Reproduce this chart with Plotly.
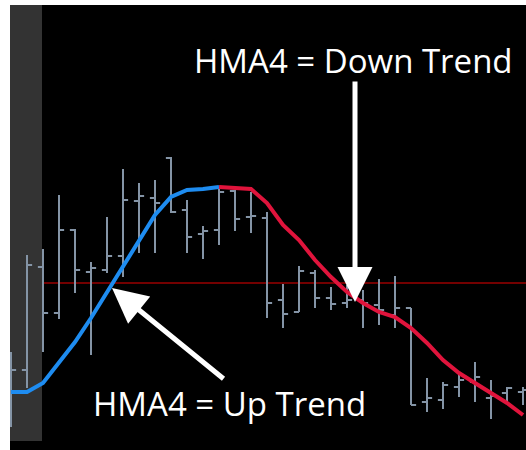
import plotly.graph_objects as go

# ---- data (price units; bar index on x) ----
bar_index = list(range(33))
high_px  = [352,255,249,195,229,262,217,169,183,180,157,200,226,187,190,192,212,284,266,270,287,285,290,279,276,308,378,382,375,362,380,387,387]
low_px   = [427,388,352,319,293,355,273,277,253,253,213,253,259,245,231,233,318,328,312,308,310,308,328,325,328,405,412,409,397,402,419,403,405]
open_px  = [395,370,267,313,230,272,270,256,201,198,158,210,234,230,191,217,218,300,312,273,298,303,300,305,315,308,402,400,387,382,398,393,392]
close_px = [370,265,313,230,270,268,256,200,196,203,212,237,231,192,219,216,303,314,271,298,304,300,303,310,308,405,398,385,380,377,396,388,390]
hma_px   = [392,392,383,362,342,318,292,266,240,215,197,190,189,187,188,189,203,225,240,260,277,292,303,312,317,328,343,360,373,383,393,403,415]
ref_level = 167

def to_price(v):
    return [450 - a for a in v]

high, low, opn, close, hma = map(to_price, (high_px, low_px, open_px, close_px, hma_px))

# trend split: rising HMA blue, falling red
up_end = 13

fig = go.Figure()

fig.add_trace(go.Ohlc(
    x=bar_index, open=opn, high=high, low=low, close=close,
    increasing=dict(line=dict(color="#8494a6", width=2)),
    decreasing=dict(line=dict(color="#8494a6", width=2)),
    tickwidth=0.32, hoverinfo="skip", showlegend=False,
))

fig.add_trace(go.Scatter(
    x=bar_index[:up_end + 1], y=hma[:up_end + 1], mode="lines",
    line=dict(color="#1e8cf0", width=4), hoverinfo="skip", showlegend=False,
))
fig.add_trace(go.Scatter(
    x=bar_index[up_end:], y=hma[up_end:], mode="lines",
    line=dict(color="#e0143c", width=4), hoverinfo="skip", showlegend=False,
))

x_lo, x_hi = -0.0625, 32.1875

fig.add_shape(type="rect", xref="x", yref="y", x0=x_lo, x1=1.9375, y0=9, y1=445,
              fillcolor="#333333", line=dict(width=0), layer="below")
fig.add_shape(type="line", xref="paper", yref="y", x0=0, x1=1, y0=ref_level, y1=ref_level,
              line=dict(color="#9a0000", width=1.5), layer="below")

font = dict(family="Open Sans, Noto Sans, sans-serif", size=33, color="white")

# arrows
fig.add_annotation(x=21.5, y=148, xref="x", yref="y", ax=0, ay=-222, text="",
                   showarrow=True, arrowhead=2, arrowwidth=5, arrowsize=1.4,
                   arrowcolor="white", standoff=0)
fig.add_annotation(x=6.3125, y=162, xref="x", yref="y", ax=113, ay=92, text="",
                   showarrow=True, arrowhead=2, arrowwidth=5, arrowsize=1.4,
                   arrowcolor="white", standoff=0)

fig.add_annotation(x=0.665, y=0.875, xref="paper", yref="paper", text="HMA4 = Down Trend",
                   showarrow=False, font=font, xanchor="center", yanchor="middle")
fig.add_annotation(x=0.426, y=0.104, xref="paper", yref="paper", text="HMA4 = Up Trend",
                   showarrow=False, font=font, xanchor="center", yanchor="middle")

fig.update_layout(
    width=526, height=450,
    margin=dict(l=10, r=0, t=5, b=0),
    paper_bgcolor="white", plot_bgcolor="black",
    xaxis=dict(range=[x_lo, x_hi], visible=False, rangeslider=dict(visible=False), fixedrange=True),
    yaxis=dict(range=[0, 445], visible=False, fixedrange=True),
    showlegend=False,
)

fig.write_html("out.html", config=dict(displayModeBar=False),
               post_script="document.body.style.margin='0px';")
